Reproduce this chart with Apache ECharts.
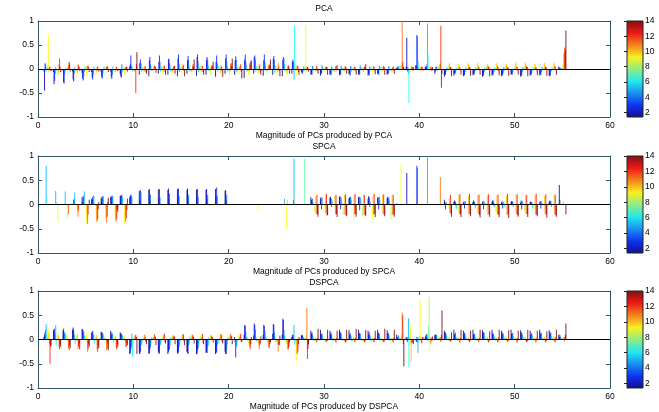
<!DOCTYPE html>
<html><head><meta charset="utf-8">
<script src="https://cdn.jsdelivr.net/npm/echarts@6/dist/echarts.min.js"></script>
<style>html,body{margin:0;padding:0;background:#fff}#c{width:659px;height:412px}</style>
</head><body><div id="c"></div>
<script>
// variable index 1..55 (x positions of bar groups)
const groups = Array.from({length: 55}, (_, i) => i + 1);
const xTicks = [0, 10, 20, 30, 40, 50, 60];
const yTicks = [-1, -0.5, 0, 0.5, 1];
const colorTicks = [2, 4, 6, 8, 10, 12, 14];
const panelTitles = ['PCA', 'SPCA', 'DSPCA'];
const xNames = ['Magnitude of PCs produced by PCA', 'Magnitude of PCs produced by SPCA', 'Magnitude of PCs produced by DSPCA'];

// PCA loadings: 14 components (rows) x 55 variables
const pcaValues = [
 [-0.05,-0.06,-0.04,-0.05,-0.08,-0.06,-0.07,-0.05,-0.1,0.05,-0.12, -0.15,-0.1,-0.12,-0.15,-0.1,-0.14,-0.12,-0.16,-0.1,-0.12,-0.18, -0.1,-0.14,-0.12,-0.15,-0.1,-0.05,-0.12,-0.14,-0.12,-0.13,-0.11, -0.12,-0.14,-0.1,-0.12,0.02,0.05,0.08,0.04,-0.1,-0.16,-0.14, -0.15,-0.13,-0.16,-0.14,-0.15,-0.12,-0.16,-0.14,-0.13,-0.15,0.05],
 [-0.45,-0.32,-0.28,-0.22,-0.2,-0.18,-0.17,-0.16,-0.15,0.1,0.12, 0.18,0.15,0.2,0.22,0.18,0.25,0.2,0.15,0.22,0.18,0.2, 0.25,0.18,0.22,0.2,0.15,-0.08,-0.1,-0.08,-0.1,-0.09,-0.1, -0.08,-0.1,-0.09,-0.1,0.03,0.65,0.08,0.05,-0.05,-0.12,-0.1, -0.12,-0.1,-0.12,-0.11,-0.12,-0.1,-0.12,-0.11,-0.1,-0.12,0.02],
 [0.12,-0.25,-0.3,-0.26,-0.24,-0.22,-0.2,-0.21,-0.18,0.28,0.2, 0.25,0.28,0.22,0.3,0.27,0.3,0.25,0.28,0.3,0.26,0.3, 0.28,0.3,0.27,0.25,0.2,-0.1,-0.12,-0.1,-0.13,-0.12,-0.14, -0.12,-0.13,-0.12,-0.1,0.05,-0.05,0.71,0.06,0.05,-0.12,-0.1, -0.13,-0.12,-0.14,-0.12,-0.13,-0.12,-0.14,-0.12,-0.13,-0.14,0.03],
 [0.1,-0.1,-0.12,-0.1,-0.15,-0.12,-0.1,-0.12,0.1,0.05,0.12, 0.1,0.15,0.12,0.1,0.2,0.15,0.18,0.12,0.15,0.2,0.15, 0.2,0.15,0.18,0.22,0.15,-0.05,0.06,0.08,0.05,0.07,0.06, 0.08,0.05,0.07,0.06,0.03,0.04,0.68,0.1,0.04,-0.06,-0.08, -0.06,-0.08,-0.07,-0.06,-0.08,-0.07,-0.06,-0.08,-0.07,-0.05,0.02],
 [-0.05,0.05,-0.05,0.04,-0.06,0.05,-0.04,0.05,-0.05,0.06,-0.05, 0.06,-0.05,0.08,-0.06,0.05,-0.07,0.06,-0.05,0.05,-0.06,0.08, -0.05,0.06,-0.08,0.1,-0.22,0.05,-0.04,0.03,-0.04,0.03,-0.05, 0.04,-0.03,0.05,-0.04,0.06,-0.1,0.2,0.95,-0.04,0.03,-0.04, 0.03,-0.04,0.03,-0.05,0.04,-0.03,0.04,-0.03,0.05,-0.04,0.02],
 [0.04,-0.04,0.03,-0.05,0.04,-0.03,0.05,-0.04,0.03,-0.05,0.04, -0.04,0.05,-0.05,0.04,-0.06,0.05,-0.04,0.06,-0.05,0.04,-0.06, 0.05,-0.05,0.06,-0.04,0.9,-0.03,0.03,-0.04,0.03,-0.03,0.04, -0.03,0.04,-0.03,0.04,-0.03,-0.71,0.05,0.3,0.04,-0.03,0.03, -0.03,0.04,-0.03,0.03,-0.04,0.03,-0.03,0.04,-0.03,0.04,0.02],
 [0.03,-0.03,0.02,-0.03,0.03,-0.02,0.03,-0.03,0.02,-0.03,0.03, -0.03,0.04,-0.03,0.03,-0.04,0.03,-0.03,0.04,-0.03,0.03,-0.04, 0.03,-0.04,0.03,-0.03,0.05,0.04,-0.03,0.02,-0.03,0.02,-0.03, 0.03,-0.02,0.03,-0.02,0.04,-0.05,0.03,-0.02,0.04,0.02,-0.03, 0.02,-0.03,0.02,-0.02,0.03,-0.02,0.03,-0.02,0.03,-0.03,0.02],
 [0.08,-0.05,0.03,-0.04,0.05,-0.03,0.04,-0.05,0.03,-0.04,0.05, -0.04,0.05,-0.06,0.04,-0.05,0.06,-0.04,0.05,-0.06,0.04,-0.05, 0.06,-0.05,0.04,-0.06,0.05,0.1,-0.04,0.03,-0.04,0.03,-0.04, 0.03,-0.04,0.03,-0.04,0.05,-0.06,0.04,-0.05,0.06,0.04,0.05, 0.04,0.05,0.06,0.04,0.05,0.06,0.04,0.05,0.04,0.05,0.03],
 [0.72,-0.12,-0.1,-0.14,-0.15,-0.12,-0.13,-0.1,-0.12,-0.08,-0.1, -0.08,-0.12,-0.1,-0.09,-0.12,-0.1,-0.11,-0.1,-0.12,-0.1,-0.13, -0.1,-0.12,-0.14,-0.12,-0.15,0.9,-0.06,-0.05,-0.07,-0.06,-0.08, -0.06,-0.07,-0.05,-0.06,0.04,-0.04,0.05,-0.05,0.06,0.08,0.1, 0.12,0.1,0.09,0.11,0.12,0.1,0.13,0.11,0.12,0.14,0.1],
 [-0.06,-0.1,0.05,-0.08,0.06,-0.07,0.05,-0.06,0.04,-0.05,-0.06, 0.05,-0.06,-0.08,0.06,-0.07,-0.05,0.06,-0.08,-0.06,0.05,-0.07, -0.08,0.06,-0.07,-0.1,0.05,-0.05,-0.04,0.05,-0.06,-0.05,0.04, -0.06,0.05,-0.04,-0.05,0.08,0.05,-0.04,0.05,0.1,0.12,0.1, 0.11,0.13,0.1,0.12,0.1,0.14,0.12,0.11,0.13,0.12,0.3],
 [0.05,0.1,0.08,0.1,0.06,0.05,0.04,0.05,0.03,-0.04,0.06, 0.08,0.05,0.06,0.1,0.05,0.07,0.06,0.08,0.1,0.06,0.12, 0.1,0.08,0.12,0.06,0.08,0.05,0.06,0.05,0.04,0.06,0.05, 0.04,0.06,0.05,0.04,1.0,0.05,0.04,0.05,0.12,0.05,0.04, 0.05,0.04,0.05,0.06,0.04,0.05,0.06,0.04,0.05,0.06,0.35],
 [0.04,0.22,0.15,0.08,0.06,0.05,0.06,0.04,0.05,-0.5,0.05, 0.06,0.08,0.05,0.07,0.1,0.06,0.08,0.05,0.12,0.1,0.08, 0.06,0.1,0.05,0.08,0.06,0.04,0.05,0.04,0.06,0.05,0.04, 0.05,0.04,0.06,0.05,0.15,0.04,0.05,0.03,0.9,0.04,0.03, 0.04,0.03,0.05,0.04,0.03,0.04,0.05,0.03,0.04,0.05,0.45],
 [-0.03,0.05,0.12,0.04,0.03,-0.04,0.03,-0.03,0.04,0.1,-0.05, 0.04,-0.05,0.06,-0.04,0.05,-0.06,0.05,-0.04,0.06,-0.05,0.15, -0.05,0.06,-0.04,0.05,-0.06,0.03,-0.03,0.04,-0.03,0.03,-0.04, 0.03,-0.03,0.04,-0.03,0.05,-0.03,0.03,-0.04,-0.39,0.03,-0.03, 0.03,-0.03,0.03,-0.04,0.03,-0.03,0.04,-0.03,0.03,-0.03,0.4],
 [-0.04,-0.06,-0.05,-0.04,-0.06,-0.05,-0.06,-0.04,-0.05,0.35,-0.1, -0.08,-0.12,-0.1,-0.15,0.2,-0.12,0.15,-0.16,0.22,-0.2,0.18, -0.12,0.2,-0.15,-0.1,-0.12,-0.05,-0.1,-0.12,0.08,-0.1,-0.12, 0.1,-0.11,-0.12,-0.1,0.03,0.04,-0.03,0.04,-0.1,-0.15,-0.12, -0.14,-0.12,-0.15,-0.13,-0.14,-0.12,-0.15,-0.13,-0.14,-0.12,0.8]
];

// SPCA loadings
const spcaValues = [
 [0,0,0,0,0.15,0.12,0.14,0.16,0.18,0.15,0.28, 0.3,0.31,0.3,0.32,0.3,0.31,0.3,0.32,0.28,0,0, 0,0,0,0,0,0,0.15,0.12,0.14,0.16,0.13, 0.15,0.12,0.14,0.13,0.02,0,0,0,0,0.1,0.05, 0.04,0.05,0.04,0.05,0.04,0.05,0.04,0.05,0.04,0.05,0],
 [0,0,0,0,0.05,0.1,0.12,0.14,0.18,0.18,0.1, 0.32,0.12,0.33,0.15,0.33,0.14,0.32,0.15,0.3,0,0, 0,0,0,0,0,0,0.1,0.15,0.16,0.17,0.15, 0.16,0.17,0.15,0.16,0,0.65,0,0,0,0.05,0.08, 0.06,0.08,0.07,0.08,0.06,0.07,0.08,0.06,0.07,0.08,0.4],
 [0,0,0,0.1,0.18,0.15,0.17,0.18,0.19,0.2,0.3, 0.1,0.32,0.12,0.33,0.14,0.32,0.12,0.35,0.1,0,0, 0,0,0,0,0,0,0.05,-0.1,0.12,-0.1,0.14, -0.12,0.15,-0.1,0.12,0,0,0.8,0,0,-0.1,0.05, -0.08,0.06,-0.1,0.05,-0.08,0.06,-0.1,0.05,-0.08,0.06,0.1],
 [0,0,0,0.12,0.15,0.18,0.16,0.18,0.2,0.18,0.25, 0.2,0.15,0.22,0.18,0.2,0.16,0.2,0.18,0.2,0,0, 0,0,0,0,0.1,0,0.12,0.15,-0.05,0.14,0.16, 0.15,-0.05,0.16,0.15,0,0,0.75,0,0,0.05,0.06, 0.07,0.05,0.06,0.08,0.05,0.06,0.07,0.05,0.06,0.07,0],
 [0.8,0.28,0.27,0.25,0.27,0.18,0.17,0.16,0.15,0.14,0, 0,0,0,0,0,0,0,0,0,0,0, 0,0,0,0.12,0.95,0,0.05,0,0.08,0.06,0.1, 0.08,0.06,0.1,0.08,0,0,0,1.0,0,0.03,-0.06, 0.04,-0.05,0.03,-0.06,0.04,-0.05,0.03,-0.06,0.04,-0.05,0],
 [0.1,0.05,0,0,0.05,0,0,0,0,0,0, 0,0,0,0,0,0,0,0,0,0,0, 0,0,0,0,0,0,0,0,0,0,0, 0,0,0,0,0,0,0,0,0,0,-0.1, 0,-0.08,0,0,-0.06,0,0,-0.08,0,0,0],
 [0,0,0,0,0,0,0,0,0,0,0, 0,0,0,0,0,0,0,0,0,0,0, 0,0,0,0,0,0.95,0,0,0,0,0, 0,0,0,0,0,0,0,0,0,0,0, 0,0,0,0,0,0,0,0,0,0,0],
 [0,0,0,0,0,0,0,0,0,0,0, 0,0,0,0,0,0,0,0,0,0,0, 0,0,0,0,0,0,-0.15,0,0,-0.2,0, -0.25,0,0,-0.3,0,0,0,0,0,0,0, 0,0,0,-0.15,0,0,-0.12,0,0,0,0],
 [0,-0.35,-0.3,-0.1,-0.38,-0.15,-0.2,-0.25,-0.4,0,0, 0,0,0,0,0,0,0,0,0,0,0, -0.1,0,0,-0.5,0,0,-0.2,-0.1,-0.05,-0.15,-0.3, -0.1,-0.3,-0.1,-0.2,0.85,0,0,0,0,-0.08,-0.15, -0.1,-0.18,-0.12,-0.2,-0.1,-0.15,-0.2,-0.1,-0.12,-0.08,0.1],
 [0,0,-0.05,-0.15,-0.3,-0.35,-0.3,-0.33,-0.35,0,0, 0,0,0,0,0,0,0,0,0,0,0, 0,0,0,0.1,0,0,0.18,0.2,0.18,0.2,0.19, 0.2,0.18,0.2,0.19,0,0,0,0,0,0.15,0.2, 0.18,0.2,0.19,0.2,0.18,0.2,0.19,0.2,0.18,0.2,0.05],
 [0,0,-0.2,-0.25,-0.4,-0.35,-0.37,-0.35,-0.35,0,0, 0,0,0,0,0,0,0,0,0,0,0, 0,0,0,0,0,0,-0.2,-0.18,-0.2,-0.22,-0.2, -0.21,-0.2,-0.19,-0.22,0,0,0,0,0.56,-0.18,-0.2, -0.2,-0.19,-0.21,-0.2,-0.22,-0.2,-0.19,-0.21,-0.2,-0.2,0],
 [0,0,0,-0.12,-0.2,-0.3,-0.25,-0.3,-0.28,0,0, 0,0,0,0,0,0,0,0,0,0,0, 0,0,0,0,0,0,0.2,0.22,0.2,0.21,0.22, 0.2,0.22,0.21,0.2,0,0,0,0,0,0.2,0.21, 0.22,0.2,0.21,0.2,0.22,0.21,0.2,0.22,0.21,0.2,0],
 [0,0,0,0,0,-0.1,0.05,-0.1,-0.12,0,0, 0,0,0,0,0,0,0,0,0,0,0, 0,0,0,0,0,0,-0.2,-0.22,-0.2,-0.21,-0.2, -0.22,-0.2,-0.21,-0.2,0,0,0,0,0,-0.18,-0.2, -0.2,-0.22,-0.2,-0.21,-0.2,-0.22,-0.2,-0.21,-0.2,-0.22,0],
 [0,0,0,0,0.1,0.05,0.14,-0.15,0.12,0,0, 0,0,0,0,0,0,0,0,0,0,0, 0,0,0,0,0,0,-0.25,-0.22,-0.26,-0.24,-0.25, -0.23,-0.26,-0.24,-0.25,0,0,0,0,0,-0.25,-0.26, -0.24,-0.27,-0.25,-0.26,-0.28,-0.25,-0.26,-0.24,-0.27,-0.25,-0.2]
];

// DSPCA loadings
const dspcaValues = [
 [0.05,0.2,0.18,0.2,0.22,0.15,0.16,0.18,0.15,-0.3,-0.28, -0.3,-0.25,-0.3,-0.28,-0.25,-0.3,-0.28,-0.3,-0.25,0.05,0.1, 0.08,0.1,0.12,0.1,0.05,0.08,0.18,0.2,0.18,0.2,0.19, 0.2,0.18,0.2,0.19,0.1,0.05,0,0.05,0.1,0.18,0.2, 0.18,0.2,0.19,0.2,0.18,0.2,0.19,0.18,0.2,0.19,0.1],
 [0.1,0.15,0.22,0.25,0.2,0.12,0.15,0.1,0.12,-0.28,-0.3, -0.28,-0.3,-0.25,-0.3,-0.28,-0.3,-0.25,-0.28,-0.3,-0.05,0.3, 0.33,0.3,0.32,0.43,0.1,0.1,0.12,0.1,0.12,0.14,0.1, 0.12,0.1,0.14,0.12,0.05,0.03,-0.05,0.08,0.1,0.12,0.1, 0.12,0.1,0.13,0.12,0.1,0.12,0.13,0.1,0.12,0.14,0.05],
 [0.15,0.22,0.12,0.2,0.14,0.18,0.12,0.14,0.12,-0.2,-0.25, -0.2,-0.28,-0.22,-0.25,-0.3,-0.22,-0.28,-0.25,-0.3,-0.37,0.28, 0.3,0.28,0.3,0.4,0.05,0.08,0.15,0.12,0.14,0.15,0.13, 0.14,0.15,0.13,0.14,0.03,-0.05,0.05,0.1,0.08,0.15,0.12, 0.14,0.12,0.15,0.13,0.14,0.12,0.15,0.13,0.14,0.12,0.1],
 [0.2,0.1,0.15,0.1,0.18,0.1,0.14,0.12,0.1,-0.15,-0.12, -0.15,-0.12,-0.2,-0.15,-0.12,-0.18,-0.15,-0.12,-0.2,-0.15,0.15, 0.2,0.18,0.15,0.2,0.1,0.05,0.1,0.12,0.1,0.12,0.1, 0.12,0.1,0.12,0.1,0.08,0.05,-0.06,0.12,0.1,0.12,0.14, 0.1,0.12,0.14,0.1,0.12,0.14,0.1,0.12,0.13,0.15,0.05],
 [0.32,0.3,0.12,0.1,0.08,0.1,0.08,0.06,0.08,0.12,-0.1, -0.08,-0.1,-0.12,-0.1,-0.08,-0.1,-0.12,-0.08,-0.1,-0.12,0.05, 0.05,0.06,0.05,0.08,0.3,0.05,0.05,0.06,0.04,0.05,0.06, 0.05,0.06,0.04,0.05,0.05,0.44,-0.28,0.05,0.06,0.08,0.05, 0.06,0.05,0.08,0.06,0.05,0.07,0.06,0.08,0.05,0.06,0.04],
 [0.1,-0.12,0.08,-0.1,0.05,-0.08,0.05,-0.06,0.04,-0.35,-0.08, 0.05,-0.06,0.04,-0.05,0.06,-0.04,0.05,-0.06,0.04,-0.05,0.04, -0.04,0.05,-0.05,0.06,-0.1,0.04,-0.03,0.04,-0.03,0.03,-0.04, 0.03,-0.04,0.03,-0.03,0.04,-0.57,0.05,-0.05,0.04,0.03,0.04, 0.03,0.04,0.03,0.05,0.04,0.03,0.05,0.04,0.03,0.05,0.03],
 [0.05,-0.05,0.04,-0.04,0.05,-0.03,0.04,-0.03,0.05,-0.1,-0.05, 0.04,-0.05,0.03,-0.04,0.05,-0.03,0.04,-0.05,0.03,-0.04,0.05, -0.04,0.03,-0.05,0.04,-0.05,0.03,-0.03,0.02,-0.03,0.02,-0.03, 0.02,-0.03,0.02,-0.03,0.03,0.05,-0.05,0.3,0.03,0.02,0.03, 0.02,0.03,0.02,0.03,0.02,0.03,0.02,0.03,0.02,0.03,0.02],
 [0.2,0.08,0.1,0.06,0.08,0.05,0.06,0.04,0.05,-0.05,0.04, 0.05,0.04,0.06,0.05,0.04,0.06,0.05,0.04,0.06,0.05,-0.05, -0.06,-0.05,-0.06,-0.05,-0.1,0.04,0.03,-0.03,0.03,-0.03,0.03, -0.03,0.03,-0.03,0.03,0.04,-0.1,0.1,0.88,0.05,0.03,-0.03, 0.03,-0.03,0.03,-0.03,0.03,-0.03,0.03,-0.03,0.03,-0.03,0.02],
 [0.22,0.15,0.1,0.12,0.15,0.1,0.12,0.1,0.08,0.05,0.06, 0.05,0.08,0.06,0.1,0.08,0.12,0.1,0.06,0.1,0.12,-0.1, -0.08,-0.1,-0.06,-0.1,-0.45,0.05,0.04,-0.03,0.04,-0.03,0.04, -0.03,0.04,-0.03,0.04,0.05,0.3,0.81,-0.25,0.05,0.04,0.05, 0.04,0.05,0.04,0.05,0.06,0.04,0.05,0.04,0.06,0.05,0.04],
 [0.12,0.08,-0.05,0.1,-0.06,0.08,-0.05,0.06,-0.04,0.05,0.1, 0.06,0.05,0.08,0.06,0.1,0.05,0.08,0.12,0.06,0.05,-0.08, -0.1,-0.06,-0.12,-0.08,-0.3,0.1,0.03,-0.03,0.03,-0.02,0.03, -0.02,0.03,-0.02,0.03,0.1,-0.45,0.05,0.05,0.04,0.05,0.04, 0.05,0.04,0.05,0.04,0.05,0.04,0.05,0.04,0.05,0.06,0.05],
 [-0.1,-0.15,-0.18,-0.2,-0.25,-0.2,-0.22,-0.18,-0.15,0.08,0.1, 0.12,0.1,0.08,0.12,0.1,0.05,0.08,0.1,0.12,0.08,-0.15, -0.2,-0.15,-0.25,-0.2,-0.3,0.65,-0.04,-0.05,-0.04,-0.06,-0.05, -0.04,-0.05,-0.06,-0.04,0.56,-0.08,-0.05,-0.08,0.05,-0.04,-0.05, -0.04,-0.05,-0.04,-0.06,-0.05,-0.04,-0.05,-0.06,-0.04,-0.05,-0.04],
 [-0.5,-0.2,-0.22,-0.15,-0.2,-0.25,-0.18,-0.2,-0.15,0.1,0.05, 0.08,0.12,0.05,0.1,0.08,0.12,0.06,0.1,0.08,0.12,-0.2, -0.12,-0.18,-0.1,-0.2,-0.25,-0.4,-0.05,-0.04,-0.06,-0.05,-0.04, -0.06,-0.05,-0.04,-0.06,0.5,-0.06,-0.08,0.04,-0.05,-0.04,-0.06, -0.05,-0.04,-0.06,-0.05,-0.04,-0.06,-0.05,-0.04,-0.06,-0.05,0.05],
 [-0.15,-0.1,-0.12,-0.08,-0.1,-0.12,-0.08,-0.1,-0.06,0.05,-0.05, 0.05,-0.05,0.06,-0.04,0.05,-0.06,0.04,-0.05,0.06,-0.04,-0.1, -0.08,-0.1,-0.12,-0.15,-0.1,-0.2,0.03,-0.03,0.03,-0.04,0.03, -0.03,0.03,-0.04,0.03,-0.1,-0.05,0.04,-0.03,0.1,-0.03,0.03, -0.03,0.03,-0.03,0.04,-0.03,0.03,-0.04,0.03,-0.03,0.04,0.1],
 [-0.12,-0.15,-0.18,-0.2,-0.15,-0.18,-0.22,-0.15,-0.12,-0.3,-0.1, -0.12,-0.08,-0.1,-0.12,-0.08,-0.1,-0.06,-0.08,-0.1,-0.05,0.05, 0.06,-0.05,0.08,-0.06,0.05,-0.1,0.22,0.2,0.18,0.2,0.22, 0.2,0.18,0.22,0.2,-0.55,-0.1,0.05,0.06,0.6,0.15,0.2, 0.18,0.2,0.17,0.2,0.19,0.18,0.2,0.18,0.17,0.2,0.33]
];

const panels = [pcaValues, spcaValues, dspcaValues];
const jet = ['#000080','#0000ce','#001dff','#006cff','#00baff','#0afff5','#58ffa7','#a7ff58','#f5ff0a','#ffba00','#ff6c00','#ff1d00','#ce0000','#800000'];
const cMin = 1.4, cMax = 14;

const FONT = 'Liberation Sans, Arial, sans-serif';
const FS = 8.5;
const AX = '#2f5566';
const tops = [21, 156, 291];
const heights = [96, 97, 97];

const grid = [], xAxis = [], yAxis = [], series = [], title = [];
const titleTops = [4, 142, 278];

for (let p = 0; p < 3; p++) {
  grid.push({left: 38, top: tops[p], width: 572, height: heights[p]});
  title.push({text: panelTitles[p], left: 324, top: titleTops[p], textAlign: 'center', padding: 0,
    textStyle: {fontSize: FS, fontWeight: 'normal', color: '#000', fontFamily: FONT}});
  const axLine = {show: true, lineStyle: {color: AX, width: 1}};
  xAxis.push({type: 'value', gridIndex: p, min: 0, max: 60, interval: 10, position: 'bottom',
    axisLine: Object.assign({onZero: false}, axLine), axisTick: {inside: true, length: 4, lineStyle: {color: AX}},
    axisLabel: {color: '#000', fontSize: FS, fontFamily: FONT, margin: 4},
    splitLine: {show: false}, name: xNames[p], nameLocation: 'middle', nameGap: 14,
    nameTextStyle: {color: '#000', fontSize: FS, fontFamily: FONT}});
  xAxis.push({type: 'value', gridIndex: p, min: 0, max: 60, interval: 10, position: 'top',
    axisLine: Object.assign({onZero: false}, axLine), axisTick: {inside: true, length: 4, lineStyle: {color: AX}},
    axisLabel: {show: false}, splitLine: {show: false}});
  yAxis.push({type: 'value', gridIndex: p, min: -1, max: 1, interval: 0.5, position: 'left',
    axisLine: Object.assign({onZero: false}, axLine), axisTick: {inside: true, length: 4, lineStyle: {color: AX}},
    axisLabel: {color: '#000', fontSize: FS, fontFamily: FONT, margin: 4}, splitLine: {show: false}});
  yAxis.push({type: 'value', gridIndex: p, min: -1, max: 1, interval: 0.5, position: 'right',
    axisLine: Object.assign({onZero: false}, axLine), axisTick: {inside: true, length: 4, lineStyle: {color: AX}},
    axisLabel: {show: false}, splitLine: {show: false}});
}
for (let p = 0; p < 3; p++) {
  grid.push({left: 627, top: tops[p], width: 16, height: heights[p]});
  xAxis.push({type: 'value', gridIndex: 3 + p, min: 0, max: 1, show: false});
  yAxis.push({type: 'value', gridIndex: 3 + p, min: cMin, max: cMax, position: 'right',
    axisLine: {show: false}, splitLine: {show: false},
    axisTick: {show: true, inside: true, length: 3, customValues: colorTicks, lineStyle: {color: '#222'}},
    axisLabel: {show: true, customValues: colorTicks, color: '#000', fontSize: FS, fontFamily: FONT, margin: 2}});
}

for (let p = 0; p < 3; p++) {
  const vals = panels[p];
  for (let s = 0; s < 14; s++) {
    const ser = {
      type: 'bar', xAxisIndex: 2 * p, yAxisIndex: 2 * p,
      data: groups.map((g, i) => [g, vals[s][i]]),
      barWidth: 1, barGap: '-45%', barMinWidth: 0.1,
      itemStyle: {color: jet[s], opacity: 0.85}, silent: true
    };
    if (s === 13) {
      ser.markLine = {silent: true, symbol: ['none', 'none'], label: {show: false},
        lineStyle: {color: '#000', width: 1, type: 'solid', opacity: 1}, data: [{yAxis: 0}], animation: false};
    }
    series.push(ser);
  }
  series.push({
    type: 'custom', xAxisIndex: 6 + p, yAxisIndex: 6 + p, silent: true,
    data: [[0, cMin, 1, cMax]],
    renderItem: function (params, api) {
      const a = api.coord([api.value(0), api.value(1)]);
      const b = api.coord([api.value(2), api.value(3)]);
      return {type: 'rect', shape: {x: a[0], y: b[1], width: b[0] - a[0], height: a[1] - b[1]},
        style: {stroke: '#222', lineWidth: 1,
          fill: new echarts.graphic.LinearGradient(0, 1, 0, 0, [
            {offset: 0, color: '#10108f'}, {offset: 0.12, color: '#1030f0'},
            {offset: 0.37, color: '#20e8f0'}, {offset: 0.62, color: '#f8f020'},
            {offset: 0.87, color: '#f01818'}, {offset: 1, color: '#801010'}])}};
    }
  });
}

const chart = echarts.init(document.getElementById('c'), null, {renderer: 'canvas'});
chart.setOption({animation: false, backgroundColor: '#fff', title, grid, xAxis, yAxis, series});
</script></body></html>
